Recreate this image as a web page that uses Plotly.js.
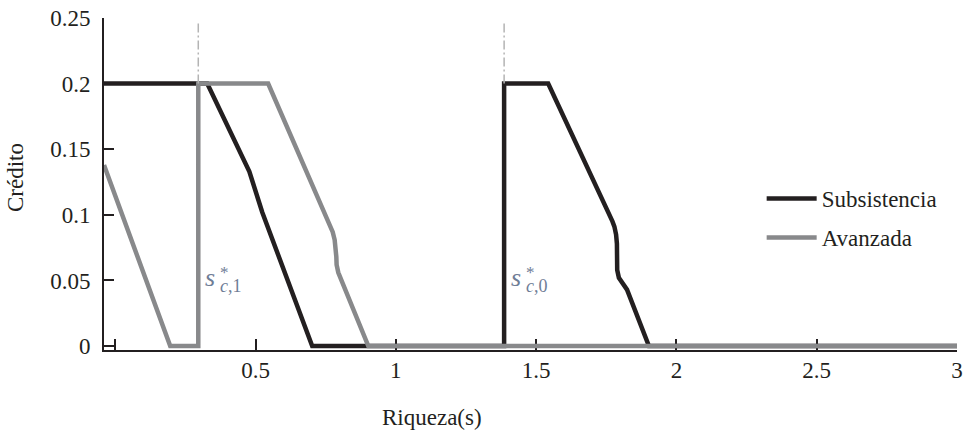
<!DOCTYPE html>
<html>
<head>
<meta charset="utf-8">
<script src="https://cdn.plot.ly/plotly-3.0.1.min.js"></script>
<style>
  html, body { margin: 0; padding: 0; background: #fff; }
  #chart { width: 967px; height: 436px; }
</style>
</head>
<body>
<div id="chart"></div>
<script>
// Subsistencia (black) credit curve
var subX = [-0.04, 0.328, 0.478, 0.492, 0.505, 0.524, 0.702, 1.386, 1.386, 1.543, 1.772, 1.779, 1.785, 1.788, 1.789, 1.795, 1.824, 1.902, 3.0];
var subY = [0.2, 0.2, 0.133, 0.123, 0.113, 0.102, 0, 0, 0.2, 0.2, 0.095, 0.091, 0.085, 0.078, 0.058, 0.052, 0.043, 0, 0];

// Avanzada (gray) credit curve
var avaX = [-0.04, 0.196, 0.296, 0.296, 0.545, 0.766, 0.775, 0.782, 0.786, 0.788, 0.789, 0.795, 0.902, 3.0];
var avaY = [0.138, 0, 0, 0.2, 0.2, 0.093, 0.087, 0.081, 0.075, 0.068, 0.062, 0.056, 0, 0];

// thresholds s*_{c,1} and s*_{c,0}
var sStar = [0.296, 1.386];
var sStarLabel = ['1', '0'];
var markY = [0.2, 0.246];
var labelY = 0.05;

var xTicks = [0, 0.5, 1, 1.5, 2, 2.5, 3];
var xTickText = ['', '0.5', '1', '1.5', '2', '2.5', '3'];
var yTicks = [0, 0.05, 0.1, 0.15, 0.2, 0.25];
var yTickText = ['0', '0.05', '0.1', '0.15', '0.2', '0.25'];

var serif = '"Liberation Serif", "Times New Roman", Times, serif';
var ink = '#231f20';
var grey = '#88898b';
var labelCol = '#6f7d96';

var data = [];
data.push({
	x: subX, y: subY, type: 'scatter', mode: 'lines', name: 'Subsistencia',
	legendgroup: 'sub',
	line: { color: ink, width: 4.5 }
});
data.push({
	x: avaX, y: avaY, type: 'scatter', mode: 'lines', name: 'Avanzada',
	legendgroup: 'ava',
	line: { color: grey, width: 4.5 }
});

var annotations = [];
for (var i = 0; i < sStar.length; i++) {
	data.push({
		x: [sStar[i], sStar[i]], y: markY, type: 'scatter', mode: 'lines',
		showlegend: false, hoverinfo: 'skip',
		line: { color: '#b4b4b4', width: 1.5, dash: '9px,3px,2px,3px' }
	});
	annotations.push({
		x: sStar[i], y: labelY, xref: 'x', yref: 'y', showarrow: false,
		xanchor: 'left', yanchor: 'middle', xshift: 6, yshift: 3,
		borderpad: 0,
		text: '<i>s</i>', font: { family: serif, size: 26, color: labelCol }
	});
	// superscript star stacked over the c,n subscript
	annotations.push({
		x: sStar[i], y: labelY, xref: 'x', yref: 'y', showarrow: false,
		xanchor: 'left', yanchor: 'middle', align: 'left', xshift: 21, yshift: 1,
		borderpad: 0,
		text: '<span style="font-size:17px">*</span><br><span style="font-size:18px"><i>c</i>,' + sStarLabel[i] + '</span>',
		font: { family: serif, size: 11, color: labelCol }
	});
}

annotations.push({
	x: 0.3845, y: 0, xref: 'paper', yref: 'paper', showarrow: false,
	xanchor: 'center', yanchor: 'middle', yshift: -67,
	text: 'Riqueza(s)', font: { family: serif, size: 23, color: ink }
});
annotations.push({
	x: 0, y: 0.518, xref: 'paper', yref: 'paper', showarrow: false,
	xanchor: 'center', yanchor: 'middle', xshift: -89, textangle: -90,
	text: 'Crédito', font: { family: serif, size: 23, color: ink }
});

var layout = {
	width: 967,
	height: 436,
	margin: { l: 104, r: 10, t: 18, b: 86 },
	paper_bgcolor: '#fff',
	plot_bgcolor: '#fff',
	font: { family: serif, size: 23, color: ink },
	showlegend: true,
	legend: {
		x: 0.771, y: 0.521, xanchor: 'left', yanchor: 'top',
		bgcolor: 'rgba(0,0,0,0)',
		traceorder: 'grouped', tracegroupgap: 6,
		itemwidth: 50,
		font: { family: serif, size: 23, color: ink }
	},
	xaxis: {
		range: [-0.04, 3.0],
		tickvals: xTicks, ticktext: xTickText,
		ticks: 'inside', ticklen: 11, tickwidth: 2, tickcolor: ink,
		showline: true, linecolor: ink, linewidth: 2,
		showgrid: false, zeroline: false,
		ticklabelstandoff: -2,
		tickfont: { family: serif, size: 23, color: ink },
		layer: 'below traces'
	},
	yaxis: {
		range: [-0.003, 0.25],
		tickvals: yTicks, ticktext: yTickText,
		ticks: 'inside', ticklen: 10, tickwidth: 2, tickcolor: ink,
		showline: true, linecolor: ink, linewidth: 2,
		showgrid: false, zeroline: false,
		ticklabelstandoff: 7,
		tickfont: { family: serif, size: 23, color: ink },
		layer: 'below traces'
	},
	annotations: annotations
};

Plotly.newPlot('chart', data, layout, { displayModeBar: false, staticPlot: true });
</script>
</body>
</html>
